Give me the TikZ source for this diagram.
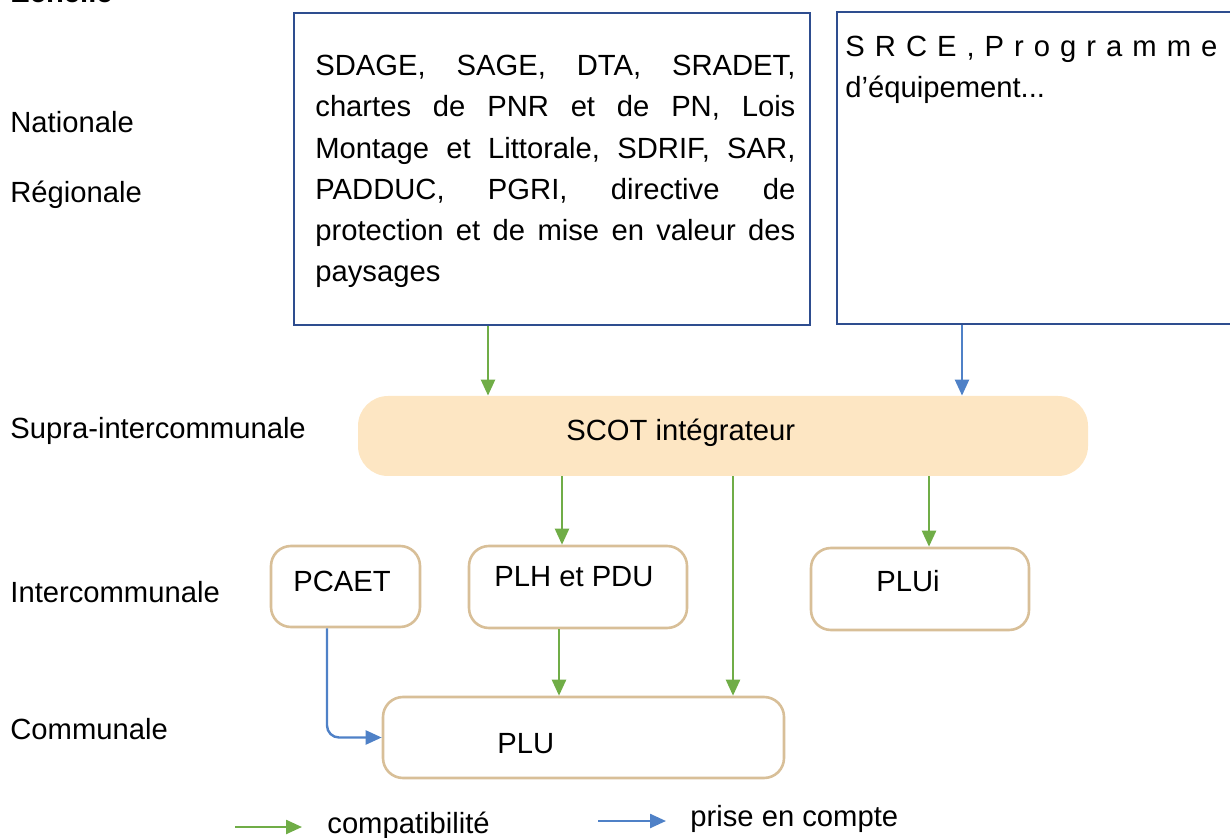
\documentclass[tikz,border=0pt]{standalone}
\usepackage{fontspec}
\setmainfont{Liberation Sans}
\usetikzlibrary{arrows.meta,fit}

\definecolor{bleunuit}{HTML}{2E4D8F}
\definecolor{vertcompat}{HTML}{70AD47}
\definecolor{bleucompte}{HTML}{4F81C7}
\definecolor{sable}{HTML}{D8BF98}
\definecolor{peche}{HTML}{FDE6C3}

\newcommand{\justif}[1]{\makebox[240pt][s]{#1}}

\tikzset{
	texte/.style={inner sep=0pt,font=\fontsize{14.6}{20.6}\selectfont},
	cadre/.style={draw=bleunuit,line width=1.4pt,inner sep=0pt},
	plan/.style={draw=sable,line width=1.3pt,rounded corners=10pt,inner sep=0pt},
	scotbox/.style={fill=peche,rounded corners=15pt,inner sep=0pt},
	compat/.style={color=vertcompat,line width=1.2pt,-{Triangle[length=8pt,width=7pt]}},
	compte/.style={color=bleucompte,line width=1.2pt,-{Triangle[length=8pt,width=7pt]}},
}

\begin{document}
\begin{tikzpicture}[x=0.5pt,y=-0.5pt]
	\useasboundingbox (0,0) rectangle (1230,838);
	
	% echelles
	\node[texte,anchor=base west] (echelle) at (10,3) {\textbf{Echelle}};
	\node[texte,anchor=base west] (nat) at (10,133) {Nationale};
	\node[texte,anchor=base west] (reg) at (10,203) {Régionale};
	\node[texte,anchor=base west] (supra) at (10,439) {Supra-intercommunale};
	\node[texte,anchor=base west] (inter) at (10,603) {Intercommunale};
	\node[texte,anchor=base west] (comm) at (10,739) {Communale};
	
	% documents
	\node[cadre,fit={(294,13) (810,325)}] (national) {};
	\node[cadre,fit={(837,12) (1260,324)}] (equip) {};
	\node[scotbox,fit={(358,396) (1088,476)}] (scot) {};
	\node[plan,fit={(271,546) (420,627)}] (pcaet) {};
	\node[plan,fit={(469,546) (687,628)}] (plh) {};
	\node[plan,fit={(811,548) (1029,630)}] (plui) {};
	\node[plan,fit={(383,697) (784,778)}] (plu) {};
	
	\node[texte,anchor=north west,text width=240pt,align=left] (liste) at (315,55) {%
		\justif{SDAGE,\hfill SAGE,\hfill DTA,\hfill SRADET,}\\
		\justif{chartes\hfill de\hfill PNR\hfill et\hfill de\hfill PN,\hfill Lois}\\
		\justif{Montage\hfill et\hfill Littorale,\hfill SDRIF,\hfill SAR,}\\
		\justif{PADDUC,\hfill PGRI,\hfill directive\hfill de}\\
		\justif{protection\hfill et\hfill de\hfill mise\hfill en\hfill valeur\hfill des}\\
		paysages};
	\node[texte,anchor=north west,text width=190pt,align=left] (srce) at (845,36) {%
		\makebox[186pt][s]{S\hfill R\hfill C\hfill E\hfill ,\hfill P\hfill r\hfill o\hfill g\hfill r\hfill a\hfill m\hfill m\hfill e}\\
		d’équipement...};
	\node[texte,anchor=base west] (tscot) at (566,441) {SCOT intégrateur};
	\node[texte,anchor=base west] (tpcaet) at (293,591) {PCAET};
	\node[texte,anchor=base west] (tplh) at (494,587) {PLH et PDU};
	\node[texte,anchor=base west] (tplui) at (876,591) {PLUi};
	\node[texte,anchor=base west] (tplu) at (497,753) {PLU};
	
	% liens
	\coordinate (xa) at (488,0);
	\coordinate (xb) at (962,0);
	\coordinate (xc) at (562,0);
	\coordinate (xd) at (733,0);
	\coordinate (xe) at (929,0);
	\coordinate (xf) at (559,0);
	\coordinate (xg) at (327,0);
	
	\path[compat] (national.south -| xa) edge (scot.north -| xa);
	\path[compte] (equip.south -| xb) edge (scot.north -| xb);
	\path[compat] (scot.south -| xc) edge (plh.north -| xc);
	\path[compat] (scot.south -| xd) edge (plu.north -| xd);
	\path[compat] (scot.south -| xe) edge (plui.north -| xe);
	\path[compat] (plh.south -| xf) edge (plu.north -| xf);
	\draw[compte,rounded corners=6pt] (pcaet.south -| xg) |- (plu.west);
	
	% legende
	\coordinate (lv1) at (235,827);
	\coordinate (lv2) at (302,827);
	\coordinate (lb1) at (598,821);
	\coordinate (lb2) at (666,821);
	\path[compat] (lv1) edge (lv2);
	\path[compte] (lb1) edge (lb2);
	\node[texte,anchor=base west] (lcompat) at (327,833) {compatibilité};
	\node[texte,anchor=base west] (lcompte) at (690,826) {prise en compte};
\end{tikzpicture}
\end{document}
